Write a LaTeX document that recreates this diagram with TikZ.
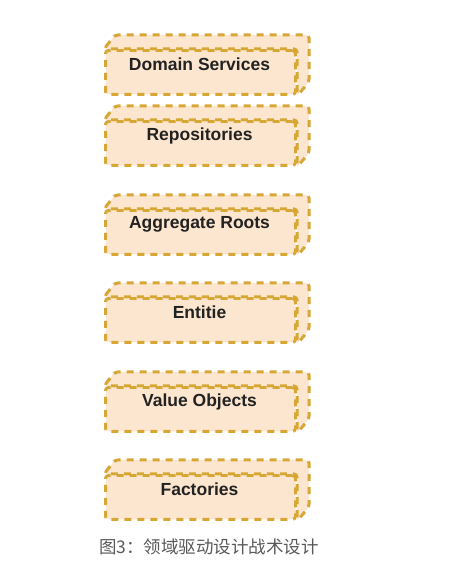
\documentclass[tikz,border=0pt]{standalone}
\usepackage{fontspec}
\setmainfont{Liberation Sans}
\newfontfamily\cjk{Noto Sans CJK SC}
\definecolor{boxfill}{HTML}{FDE6CF}
\definecolor{boxline}{HTML}{D6A735}
\definecolor{txt}{HTML}{222222}
\definecolor{cap}{HTML}{595959}
\tikzset{
  x=1pt, y=1pt,
  boxline/.style={draw=boxline, fill=boxfill, line width=3pt,
    dash pattern=on 7pt off 6pt, line join=round, rounded corners=3pt},
  frontface/.style={boxline, rectangle, minimum width=190pt, minimum height=44pt, inner sep=0pt},
  boxlabel/.style={font=\bfseries\fontsize{17.5}{20}\selectfont, text=txt, inner sep=0pt},
}
\newcommand\cubebox[3]{% name, front-top y (px, downward), text
  \node[frontface, anchor=north west] (#1) at (104,568-#2) {};
  \path[boxline] (#1.north west) -- ([shift={(11pt,14pt)}]#1.north west)
     -- ([shift={(12pt,14pt)}]#1.north east) -- ([shift={(12pt,14pt)}]#1.south east)
     -- (#1.south east) -- (#1.north east) -- cycle;
  \node[boxlabel] (#1-t) at ([xshift=-1pt,yshift=8pt]#1.center) {#3};
}
\begin{document}
\begin{tikzpicture}
\useasboundingbox (0,0) rectangle (453,568);
\cubebox{ds}{49}{Domain Services}
\cubebox{rp}{120}{Repositories}
\cubebox{ar}{209}{Aggregate Roots}
\cubebox{en}{297}{Entitie}
\cubebox{vo}{386}{Value Objects}
\cubebox{fa}{474}{Factories}
\node[anchor=west, font=\cjk\fontsize{17.5}{20}\selectfont, text=cap, inner sep=0pt] (caption) at (99,568-547) {图3：领域驱动设计战术设计};
\end{tikzpicture}
\end{document}
